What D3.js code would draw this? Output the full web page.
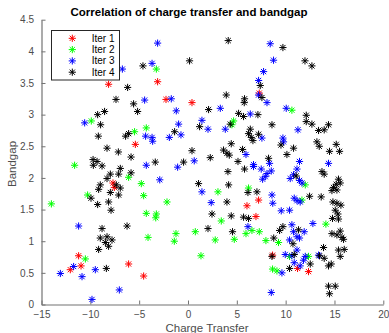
<!DOCTYPE html>
<html>
<head>
<meta charset="utf-8">
<script src="https://cdn.jsdelivr.net/npm/d3@7"></script>
<style>
  html, body { margin: 0; padding: 0; background: #fff; }
  svg { display: block; font-family: "Liberation Sans", Arial, Helvetica, sans-serif; }
</style>
</head>
<body>
<svg id="chart" width="389" height="333"></svg>
<script>
// Series: [charge transfer, bandgap]
const iter1 = [[-3.11,3.52],[-8.13,3.48],[-5.39,2.53],[-2.25,3.24],[0.41,3.19],[7.30,3.34],[-7.68,1.92],[-7.54,1.85],[-11.2,0.77],[-10.95,0.61],[-12.05,0.55],[-6.08,0.64],[-4.54,0.45],[7.23,1.65],[6.04,1.56],[6.96,1.39],[8.66,0.78],[11.22,0.57],[12.34,0.52]];

const iter2 = [[-3.24,3.72],[-9.90,2.90],[-5.47,2.73],[-4.27,2.79],[-11.61,2.20],[-6.08,2.01],[-4.78,1.91],[-10.28,1.73],[-4.54,1.72],[-13.99,1.59],[-4.27,1.44],[-3.24,1.43],[-3.30,1.37],[-4.09,1.06],[-10.51,0.72],[4.67,2.90],[4.50,2.84],[10.64,3.07],[6.20,1.84],[3.07,1.78],[-2.15,1.62],[3.41,1.32],[5.94,1.12],[6.55,1.17],[7.30,1.15],[0.75,1.15],[-1.23,1.12],[-1.40,1.00],[2.79,1.02],[4.74,1.03],[7.98,1.01],[1.33,0.77],[8.66,0.56],[12.01,1.89],[11.67,1.65],[14.12,1.27],[9.27,0.98],[10.40,0.76],[12.34,0.76],[9.11,0.53]];

const iter3 = [[-3.11,4.13],[-6.72,3.72],[-3.68,3.81],[-4.44,3.23],[-10.58,2.87],[-4.34,2.66],[-3.68,2.64],[-3.62,2.58],[-4.27,2.20],[-2.89,1.97],[-11.2,1.24],[-11.71,0.60],[-13.07,0.49],[-10.85,0.44],[-9.49,0.55],[-7.03,0.23],[-9.83,0.08],[8.42,4.12],[8.76,3.86],[7.74,3.68],[7.23,3.54],[7.23,3.31],[8.09,3.19],[-1.71,3.25],[-1.20,3.06],[3.31,3.10],[6.38,3.01],[-0.96,2.85],[1.43,2.91],[2.05,2.77],[3.82,2.77],[7.57,2.63],[-1.91,2.64],[-0.72,2.68],[5.94,2.37],[0.64,2.27],[8.35,2.23],[6.71,2.21],[10.06,3.10],[11.26,2.76],[9.72,2.63],[9.78,2.57],[11.42,2.26],[14.39,2.23],[-1.06,2.17],[1.43,1.78],[6.71,2.18],[7.50,2.14],[8.09,2.07],[7.91,2.02],[7.64,1.98],[8.53,2.11],[8.60,1.73],[8.68,1.60],[2.38,1.61],[6.14,1.23],[8.53,0.19],[11.16,2.14],[10.81,2.05],[10.47,1.99],[11.42,1.96],[11.67,1.92],[10.88,1.68],[11.16,1.64],[11.49,1.62],[9.55,1.48],[10.40,1.49],[12.79,1.28],[10.64,1.26],[10.81,1.15],[11.90,1.15],[11.16,1.07],[11.42,1.05],[10.40,1.02],[11.16,0.86],[9.96,0.79],[10.64,0.77],[12.01,0.76],[11.83,0.70],[13.37,0.78],[10.88,0.66],[11.49,0.61],[9.62,0.50]];

const iter4 = [[4.12,4.17],[-4.61,3.77],[0.16,3.85],[-6.18,3.43],[-7.37,3.24],[-5.57,3.17],[-5.16,3.05],[-8.54,3.05],[-9.25,3.00],[-8.95,2.84],[-9.18,2.66],[-6.39,2.66],[-6.08,2.70],[-8.29,2.47],[-7.13,2.41],[-5.83,2.33],[-9.72,2.29],[-9.31,2.26],[-3.35,2.25],[-8.80,2.19],[-9.69,2.20],[-6.93,2.15],[-5.83,2.08],[-7.10,2.06],[-7.95,2.06],[-8.29,1.99],[-8.98,1.89],[-9.15,1.82],[-7.34,1.89],[-6.93,1.84],[-7.95,1.77],[-7.10,1.73],[-9.93,1.68],[-8.13,1.62],[-9.25,1.58],[-7.88,1.49],[-8.80,1.20],[-6.24,1.24],[-8.98,1.05],[-8.29,1.07],[-7.78,1.02],[-8.46,0.98],[-8.13,0.92],[-9.15,0.87],[-8.36,0.57],[3.92,3.31],[5.79,3.25],[5.76,3.19],[7.40,3.46],[7.57,3.27],[2.11,3.08],[5.18,3.02],[5.69,2.97],[7.16,3.00],[8.60,2.84],[4.33,2.85],[1.19,2.81],[6.38,2.77],[6.20,2.70],[6.48,2.64],[6.65,2.59],[7.23,2.69],[-1.37,2.73],[4.43,2.54],[3.64,2.44],[3.99,2.39],[4.23,2.36],[5.59,2.45],[0.41,2.43],[2.28,2.32],[-0.45,2.25],[5.12,2.26],[8.25,2.31],[9.72,4.06],[11.98,3.85],[12.69,3.77],[12.11,2.99],[12.11,2.89],[12.69,2.85],[13.37,2.75],[13.95,2.76],[14.39,2.84],[9.52,2.52],[10.81,2.47],[10.13,2.37],[13.20,2.57],[13.44,2.50],[15.18,2.53],[14.49,2.42],[15.52,2.42],[1.08,1.91],[4.16,1.89],[4.09,2.10],[5.79,2.14],[6.14,1.77],[7.06,1.78],[3.99,1.62],[2.46,1.43],[4.43,1.40],[5.69,1.38],[6.20,1.36],[2.05,1.20],[4.56,1.15],[8.78,1.05],[8.60,0.76],[11.08,2.03],[13.72,2.10],[13.95,2.06],[15.41,1.98],[15.18,1.90],[14.90,1.85],[15.25,1.81],[15.59,1.92],[14.74,1.80],[12.45,1.71],[13.64,1.70],[14.84,1.62],[15.25,1.60],[15.66,1.57],[15.08,1.49],[15.35,1.43],[14.80,1.36],[15.41,1.35],[9.72,1.23],[9.38,1.17],[11.32,1.18],[10.75,0.96],[14.74,1.12],[15.25,1.10],[15.59,1.16],[15.76,1.06],[15.93,1.03],[13.88,0.90],[15.41,0.86],[16.00,0.87],[15.59,0.76],[10.88,0.79],[13.47,0.77],[13.95,0.73],[12.52,0.64],[10.40,0.57],[14.67,0.64],[14.39,0.61],[14.39,0.29],[15.08,0.29],[14.49,0.17]];

const seriesNames = ["Iter 1", "Iter 2", "Iter 3", "Iter 4"];
const seriesColors = ["#ff0000", "#00ff00", "#0000ff", "#000000"];
const xTicks = [-15, -10, -5, 0, 5, 10, 15, 20];
const yTicks = [0, 0.5, 1, 1.5, 2, 2.5, 3, 3.5, 4, 4.5];

const allSeries = [iter1, iter2, iter3, iter4];

const svg = d3.select("#chart");
const plotLeft = 41.5, plotRight = 383.3, plotTop = 19.7, plotBottom = 304.5;

const x = d3.scaleLinear().domain([-15, 20]).range([plotLeft, plotRight]);
const y = d3.scaleLinear().domain([0, 4.5]).range([plotBottom, plotTop]);

const axisColor = "#737373";
const labelColor = "#4d4d4d";

// axes (ticks point inward, MATLAB style)
const xAxis = svg.append("g")
  .attr("transform", `translate(0,${plotBottom})`)
  .call(d3.axisBottom(x).tickValues(xTicks).tickSizeInner(-4).tickSizeOuter(0).tickPadding(6).tickFormat(d3.format("d")));
const yAxis = svg.append("g")
  .attr("transform", `translate(${plotLeft},0)`)
  .call(d3.axisLeft(y).tickValues(yTicks).tickSizeInner(-4).tickSizeOuter(0).tickPadding(7.5).tickFormat(d => d));

[xAxis, yAxis].forEach(g => {
  g.select(".domain").attr("stroke", axisColor).attr("stroke-width", 1.2);
  g.selectAll(".tick line").attr("stroke", axisColor);
  g.selectAll(".tick text").attr("fill", labelColor).style("font-size", "10px")
    .style("font-family", "'Liberation Sans', Arial, sans-serif");
});

// asterisk marker
const r = 3.6, dg = 2.6;
const star = `M${-r},0L${r},0M0,${-r}L0,${r}M${-dg},${-dg}L${dg},${dg}M${-dg},${dg}L${dg},${-dg}`;

allSeries.forEach((data, i) => {
  svg.append("g")
    .selectAll("path")
    .data(data)
    .enter()
    .append("path")
    .attr("d", star)
    .attr("transform", d => `translate(${x(d[0])},${y(d[1])})`)
    .attr("fill", "none")
    .attr("stroke", seriesColors[i])
    .attr("stroke-width", 1);
});

// title
svg.append("text")
  .attr("x", 189)
  .attr("y", 15.8)
  .attr("text-anchor", "middle")
  .style("font-size", "11.5px")
  .style("font-weight", "bold")
  .attr("fill", "#000")
  .text("Correlation of charge transfer and bandgap");

// axis labels
svg.append("text")
  .attr("x", 207)
  .attr("y", 331.6)
  .attr("text-anchor", "middle")
  .style("font-size", "11.5px")
  .attr("fill", labelColor)
  .text("Charge Transfer");

svg.append("text")
  .attr("transform", "translate(15.5,164) rotate(-90)")
  .attr("text-anchor", "middle")
  .style("font-size", "11.5px")
  .attr("fill", labelColor)
  .text("Bandgap");

// legend
const legend = svg.append("g");
legend.append("rect")
  .attr("x", 51.5).attr("y", 30.5)
  .attr("width", 68).attr("height", 49.5)
  .attr("fill", "#fff")
  .attr("stroke", "#262626")
  .attr("stroke-width", 1);

seriesNames.forEach((name, i) => {
  const ly = 38.3 + i * 11.3;
  legend.append("path")
    .attr("d", star)
    .attr("transform", `translate(72.3,${ly})`)
    .attr("fill", "none")
    .attr("stroke", seriesColors[i]);
  legend.append("text")
    .attr("x", 91.7)
    .attr("y", ly + 3.5)
    .style("font-size", "10px")
    .attr("fill", "#000")
    .text(name);
});
</script>
</body>
</html>
